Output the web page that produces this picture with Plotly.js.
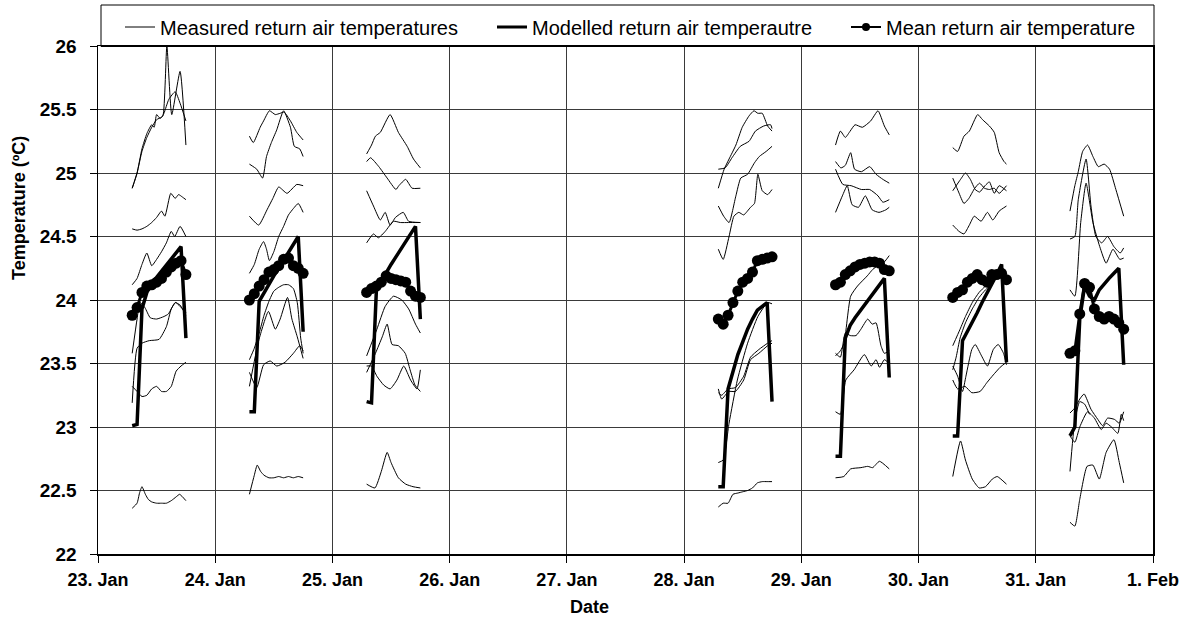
<!DOCTYPE html>
<html><head><meta charset="utf-8">
<script src="https://cdn.plot.ly/plotly-3.0.1.min.js"></script>
<style>html,body{margin:0;padding:0;background:#fff}#chart{width:1190px;height:624px}</style>
</head><body><div id="chart"></div>
<script>
// ---------- data ----------
const HOURS = [7,8,9,10,11,12,13,14,15,16,17,18];
const DAYS = [23,24,25,28,29,30,31];
const X_TICKS = ['2009-01-23','2009-01-24','2009-01-25','2009-01-26','2009-01-27','2009-01-28','2009-01-29','2009-01-30','2009-01-31','2009-02-01'];

// Modelled return air temperature (hourly, 07:00-18:00)
const mod23 = [23.01,23.02,23.93,24.06,24.13,24.18,24.23,24.28,24.33,24.38,24.42,23.70];
const mod24 = [23.12,23.12,23.99,24.06,24.12,24.19,24.25,24.31,24.37,24.44,24.50,23.75];
const mod25 = [23.20,23.19,24.08,24.15,24.21,24.28,24.34,24.40,24.46,24.52,24.58,23.85];
const mod28 = [22.53,22.53,23.30,23.44,23.57,23.67,23.77,23.85,23.92,23.95,23.98,23.20];
const mod29 = [22.77,22.77,23.70,23.80,23.86,23.91,23.96,24.01,24.06,24.11,24.17,23.39];
const mod30 = [22.93,22.93,23.68,23.75,23.83,23.90,23.98,24.05,24.13,24.20,24.28,23.51];
const mod31 = [22.93,23.00,23.85,24.11,24.03,24.00,24.08,24.13,24.17,24.21,24.25,23.49];

// Mean return air temperature (hourly)
const mean23 = [23.88,23.94,24.06,24.11,24.12,24.14,24.17,24.22,24.26,24.29,24.31,24.20];
const mean24 = [24.00,24.05,24.11,24.16,24.22,24.24,24.27,24.32,24.33,24.27,24.25,24.21];
const mean25 = [24.06,24.09,24.11,24.14,24.19,24.17,24.16,24.15,24.14,24.07,24.03,24.02];
const mean28 = [23.85,23.81,23.88,23.98,24.07,24.14,24.17,24.22,24.31,24.32,24.33,24.34];
const mean29 = [24.12,24.14,24.20,24.23,24.26,24.28,24.29,24.30,24.30,24.29,24.24,24.23];
const mean30 = [24.02,24.06,24.08,24.14,24.17,24.20,24.16,24.14,24.20,24.20,24.21,24.16];
const mean31 = [23.58,23.60,23.89,24.13,24.10,23.93,23.87,23.85,23.87,23.85,23.82,23.77];

// Measured return air temperatures: [hour, value]
const m23_1 = [[7,24.88],[8,25.0],[9,25.19],[10,25.31],[11,25.38],[11.5,25.36],[12,25.46],[12.7,25.43],[13.3,25.45],[14.1,26.0],[15.1,25.46],[16.8,25.8],[18,25.22]];
const m23_2 = [[7,24.88],[8,25.0],[9,25.17],[10,25.28],[11,25.36],[12,25.42],[13,25.44],[13.5,25.47],[14.5,25.58],[15.8,25.64],[16.8,25.55],[18,25.41]];
const m23_3 = [[7,24.56],[8,24.55],[9,24.56],[10,24.58],[11,24.61],[12,24.65],[13,24.70],[13.7,24.66],[14.9,24.84],[15.8,24.80],[16.5,24.83],[17.3,24.81],[18,24.79]];
const m23_4 = [[7,24.12],[8,24.17],[9,24.28],[10,24.37],[11,24.27],[12,24.32],[13,24.38],[14,24.45],[15,24.54],[15.7,24.5],[16.8,24.58],[18,24.5]];
const m23_5 = [[7,23.58],[8,23.85],[8.6,23.98],[9.6,23.94],[10.7,23.86],[12,23.85],[13.5,23.87],[14.4,23.89],[15.8,23.98],[16.8,23.96],[18,23.88]];
const m23_6 = [[7,23.19],[8,23.62],[9,23.66],[10.5,23.68],[12.5,23.69],[14,23.79],[15,23.93],[15.9,23.98],[16.8,23.95],[18,23.9]];
const m23_7 = [[7,23.32],[8,23.28],[9,23.24],[10,23.25],[11,23.30],[12,23.32],[13,23.28],[14,23.28],[15,23.32],[16,23.44],[17,23.48],[18,23.51]];
const m23_8 = [[7,22.36],[8,22.40],[8.5,22.48],[9,22.53],[9.7,22.47],[10.3,22.43],[11,22.41],[12,22.40],[13,22.40],[14,22.40],[15,22.42],[16,22.45],[16.7,22.47],[17.3,22.45],[18,22.42]];

const m24_1 = [[7,25.29],[7.8,25.24],[9.2,25.36],[9.9,25.41],[11.1,25.49],[12.3,25.46],[13.3,25.47],[14.1,25.48],[15.4,25.41],[16.7,25.32],[18,25.26]];
const m24_2 = [[7,25.07],[8.5,25.03],[9.7,24.96],[10.5,25.13],[11.5,25.24],[12.6,25.34],[14,25.49],[15.4,25.36],[16.2,25.21],[17.3,25.19],[18,25.13]];
const m24_3 = [[7,24.66],[8.9,24.59],[10.6,24.71],[11.8,24.80],[13,24.89],[14.7,24.84],[16.7,24.91],[18,24.90]];
const m24_4 = [[7,24.21],[8,24.28],[9,24.40],[9.9,24.46],[10.5,24.40],[11.1,24.31],[12,24.38],[13,24.50],[14,24.58],[15,24.67],[16,24.72],[17,24.76],[18,24.69]];
const m24_5 = [[7,23.53],[8,23.62],[9,23.74],[10,23.88],[11,23.99],[12,24.07],[13,24.10],[14,24.12],[15,24.12],[16,24.09],[16.8,23.98],[17.5,23.7],[18,23.58]];
const m24_6 = [[7,23.32],[8.9,23.68],[10.9,23.91],[12.3,23.77],[13.3,23.85],[14.8,24.02],[15.7,23.85],[16.8,23.71],[18,23.54]];
const m24_7 = [[7,23.43],[8.5,23.31],[9.9,23.49],[11.25,23.52],[12.6,23.48],[14.3,23.51],[16,23.58],[17.3,23.64],[18,23.6]];
const m24_8 = [[7,22.47],[8,22.62],[8.6,22.70],[9.3,22.65],[10,22.62],[11,22.60],[12,22.60],[13,22.61],[14,22.60],[15,22.61],[16,22.60],[17,22.61],[18,22.60]];

const m25_1 = [[7,25.15],[8,25.22],[8.8,25.29],[9.8,25.32],[11.8,25.46],[13.5,25.32],[15.3,25.21],[16.6,25.11],[18,25.04]];
const m25_2 = [[7,25.09],[7.8,25.12],[9.5,25.05],[11.2,24.96],[13.0,24.87],[13.6,24.90],[15.0,24.95],[16.3,24.88],[18,24.88]];
const m25_3 = [[7,24.86],[8.4,24.74],[9.8,24.63],[10.8,24.69],[11.8,24.59],[12.9,24.65],[14.5,24.69],[15.6,24.62],[18,24.61]];
const m25_4 = [[7,24.45],[8.4,24.52],[9.4,24.49],[10.8,24.54],[12.5,24.62],[13.9,24.61],[15.6,24.61],[18,24.61]];
const m25_5 = [[7,23.56],[9.1,23.77],[10.8,23.95],[12.5,24.03],[14.2,24.0],[15.6,23.93],[17,23.81],[18,23.74]];
const m25_6 = [[7,23.43],[8.8,23.58],[10.2,23.71],[11.2,23.81],[12.2,23.65],[13.5,23.64],[14.9,23.58],[15.9,23.45],[16.9,23.33],[18,23.28]];
const m25_7 = [[7,23.48],[8,23.48],[9.1,23.40],[10.5,23.33],[11.8,23.30],[13.2,23.37],[14.6,23.48],[16,23.37],[17.3,23.30],[18,23.45]];
const m25_8 = [[7,22.55],[8.7,22.52],[10,22.65],[11.2,22.80],[12,22.72],[13.5,22.60],[15,22.55],[16.5,22.53],[18,22.52]];

const m28_1 = [[7,24.88],[8.2,25.03],[9.2,25.11],[10.6,25.22],[11.9,25.36],[13.3,25.45],[14.3,25.49],[15.1,25.47],[16,25.47],[17.1,25.37],[18,25.33]];
const m28_2 = [[7,25.03],[8.4,25.04],[9.8,25.12],[11.5,25.21],[13.3,25.25],[14.6,25.33],[16.3,25.37],[17.7,25.38],[18,25.35]];
const m28_3 = [[7,24.74],[8.1,24.66],[9.2,24.61],[10.6,24.82],[11.6,24.96],[13,24.99],[14.4,25.08],[15.4,25.13],[16.8,25.17],[18,25.21]];
const m28_4 = [[7,24.40],[8,24.32],[9.2,24.50],[10.2,24.66],[11.2,24.69],[12.2,24.67],[13.6,24.73],[14.4,24.76],[15.1,24.99],[16,24.86],[17.1,24.83],[18,24.87]];
const m28_5 = [[7,23.30],[7.7,23.22],[9.1,23.28],[10.5,23.28],[12.2,23.37],[13.6,23.53],[15.3,23.58],[17.1,23.64],[18,23.66]];
const m28_6 = [[7,23.27],[7.7,23.25],[9,23.30],[10.5,23.31],[12.2,23.40],[13.6,23.55],[15.3,23.61],[17.1,23.66],[18,23.68]];
const m28_7 = [[7,22.72],[8,22.74],[9.2,23.03],[10.9,23.37],[13,23.66],[15.1,23.87],[17.1,23.98],[18,23.97]];
const m28_8 = [[7,22.37],[8,22.40],[9,22.40],[10,22.47],[11,22.48],[12,22.49],[13,22.50],[14,22.52],[15,22.56],[16,22.57],[17,22.57],[18,22.57]];

const m29_1 = [[7,25.22],[8,25.33],[9,25.28],[10,25.33],[11,25.38],[12.5,25.36],[14.2,25.41],[15.7,25.49],[17,25.37],[18,25.30]];
const m29_2 = [[7,25.09],[8.1,25.04],[9,25.06],[10.1,25.16],[10.9,25.03],[12.3,25.01],[14,25.05],[15.3,24.99],[16.7,24.95],[18,24.92]];
const m29_3 = [[7,25.03],[8.5,24.91],[10.2,24.90],[12.3,24.87],[14,24.87],[15.7,24.82],[16.7,24.77],[18,24.79]];
const m29_4 = [[7,24.69],[8.4,24.82],[9.4,24.90],[10.4,24.75],[11.7,24.73],[13.1,24.82],[14.5,24.71],[15.9,24.69],[17.3,24.71],[18,24.73]];
const m29_5 = [[7,23.56],[8,23.60],[8.75,23.66],[10.1,24.03],[11.5,24.11],[13.5,24.19],[14.6,24.24],[16,24.28],[17,24.30],[18,24.35]];
const m29_6 = [[7,23.58],[8,23.55],[9,23.74],[10,23.72],[11.2,23.72],[12.2,23.77],[13.6,23.85],[14.5,23.81],[15.3,23.82],[16.3,23.64],[17,23.58],[18,23.60]];
const m29_7 = [[7,23.12],[8,23.10],[9.1,23.37],[10.8,23.45],[12.9,23.57],[14.3,23.48],[15.3,23.53],[16,23.47],[17,23.53],[18,23.50]];
const m29_8 = [[7,22.60],[8.7,22.61],[10.1,22.67],[12.2,22.68],[13.6,22.69],[14.6,22.68],[16,22.73],[18,22.67]];

const m30_1 = [[7,25.20],[8,25.17],[9.3,25.29],[10.4,25.33],[12.1,25.46],[13.1,25.42],[14.5,25.37],[15.5,25.32],[16.5,25.16],[17.5,25.09],[18,25.07]];
const m30_2 = [[7,24.96],[8.2,24.85],[9.3,24.76],[10.3,24.80],[11.5,24.88],[12.5,24.92],[13.5,24.88],[14.5,24.87],[15.5,24.88],[16.5,24.84],[18,24.90]];
const m30_3 = [[7,24.86],[8.6,24.95],[9.6,25.0],[10.6,24.95],[11.6,24.87],[12.5,24.85],[13.6,24.90],[14.5,24.93],[15.5,24.84],[16.5,24.90],[18,24.86]];
const m30_4 = [[7,24.59],[8.3,24.54],[9.3,24.52],[10.4,24.59],[11.4,24.66],[12.8,24.62],[14.1,24.69],[15.2,24.63],[16.5,24.70],[18,24.74]];
const m30_5 = [[7,23.64],[8.5,23.77],[9.6,23.87],[11,23.98],[12.4,24.06],[13.7,24.11],[14.8,24.15],[16,24.20],[17,24.25]];
const m30_6 = [[7,23.45],[7.7,23.55],[8.5,23.70],[9.6,23.82],[11,23.93],[12.4,24.02],[13.7,24.08],[14.8,24.12],[16,24.18],[17,24.24]];
const m30_7 = [[7,23.48],[8,23.40],[9,23.28],[9.7,23.40],[10.9,23.61],[11.6,23.65],[12.9,23.56],[14.1,23.48],[15.3,23.61],[16.3,23.65],[17.4,23.58],[18,23.49]];
const m30_8 = [[7,23.37],[8,23.30],[9.5,23.32],[10.9,23.27],[12.6,23.28],[14,23.35],[15.3,23.41],[16.7,23.47],[18,23.51]];
const m30_9 = [[7,22.61],[8.6,22.89],[9.6,22.74],[11,22.59],[12.4,22.52],[13.7,22.53],[15.1,22.59],[16.1,22.61],[18,22.55]];

const m31_1 = [[7,24.70],[8,24.90],[8.7,25.01],[9.6,25.17],[10.6,25.22],[11.7,25.13],[12.8,25.05],[14,25.07],[15.1,25.03],[16.4,24.87],[18,24.66]];
const m31_2 = [[7,24.48],[8,24.50],[8.7,24.79],[10.3,25.11],[11.3,24.74],[12.3,24.50],[13.5,24.45],[14.7,24.50],[16,24.42],[17.3,24.37],[18,24.41]];
const m31_3 = [[7,24.08],[8,24.03],[9.2,24.61],[10.3,24.92],[11.7,24.61],[13.1,24.42],[14.4,24.29],[15.8,24.40],[17.2,24.32],[18,24.33]];
const m31_4 = [[7,23.11],[8,23.15],[9,23.22],[9.9,23.26],[11.3,23.14],[12.7,23.06],[13.7,23.01],[14.7,23.07],[16.1,23.06],[17.1,23.03],[18,23.12]];
const m31_5 = [[7,22.93],[8,22.88],[9,23.0],[10.6,23.12],[12,23.07],[13.4,22.98],[14.4,23.03],[15.5,23.0],[16.8,22.95],[17.5,23.1],[18,23.05]];
const m31_6 = [[7,22.65],[8,23.05],[9,23.20],[10,23.18],[11,23.10]];
const m31_7 = [[7,22.25],[8,22.22],[9,22.43],[10.5,22.69],[11.7,22.70],[13,22.59],[14.4,22.80],[16,22.90],[17.1,22.72],[18,22.56]];

const MEASURED = {
  23:[m23_1,m23_2,m23_3,m23_4,m23_5,m23_6,m23_7,m23_8],
  24:[m24_1,m24_2,m24_3,m24_4,m24_5,m24_6,m24_7,m24_8],
  25:[m25_1,m25_2,m25_3,m25_4,m25_5,m25_6,m25_7,m25_8],
  28:[m28_1,m28_2,m28_3,m28_4,m28_5,m28_6,m28_7,m28_8],
  29:[m29_1,m29_2,m29_3,m29_4,m29_5,m29_6,m29_7,m29_8],
  30:[m30_1,m30_2,m30_3,m30_4,m30_5,m30_6,m30_7,m30_8,m30_9],
  31:[m31_1,m31_2,m31_3,m31_4,m31_5,m31_6,m31_7]
};
const MODELLED = {23:mod23,24:mod24,25:mod25,28:mod28,29:mod29,30:mod30,31:mod31};
const MEAN = {23:mean23,24:mean24,25:mean25,28:mean28,29:mean29,30:mean30,31:mean31};

const LEGEND_NAMES = ['Measured return air temperatures','Modelled return air temperautre','Mean return air temperature'];
const X_TITLE = 'Date';
const Y_TITLE = 'Temperature (ºC)';

// ---------- helpers ----------
function stamp(day, h){
  const hh = Math.floor(h), mm = Math.round((h-hh)*60);
  return '2009-01-' + String(day).padStart(2,'0') + ' ' + String(hh).padStart(2,'0') + ':' + String(mm).padStart(2,'0');
}

const FONT = 'Liberation Sans, Arial, Helvetica, sans-serif';
const traces = [];

DAYS.forEach(d => {
  MEASURED[d].forEach(s => {
    traces.push({type:'scatter', mode:'lines', x:s.map(p=>stamp(d,p[0])), y:s.map(p=>p[1]),
      line:{color:'#000', width:1, shape:'spline', smoothing:0.5}, showlegend:false, hoverinfo:'skip'});
  });
});
DAYS.forEach(d => {
  traces.push({type:'scatter', mode:'lines', x:HOURS.map(h=>stamp(d,h)), y:MODELLED[d],
    line:{color:'#000', width:3.5}, showlegend:false, hoverinfo:'skip'});
});
DAYS.forEach(d => {
  traces.push({type:'scatter', mode:'lines+markers', x:HOURS.map(h=>stamp(d,h)), y:MEAN[d],
    line:{color:'#000', width:3}, marker:{color:'#000', size:11}, showlegend:false, hoverinfo:'skip'});
});
// legend entries (placed outside the visible range)
traces.push({type:'scatter', mode:'lines', x:['2009-01-20'], y:[0], name:LEGEND_NAMES[0], legend:'legend',
  line:{color:'#000', width:1}});
traces.push({type:'scatter', mode:'lines', x:['2009-01-20'], y:[0], name:LEGEND_NAMES[1], legend:'legend2',
  line:{color:'#000', width:3}});
traces.push({type:'scatter', mode:'lines+markers', x:['2009-01-20'], y:[0], name:LEGEND_NAMES[2], legend:'legend3',
  line:{color:'#000', width:2}, marker:{color:'#000', size:8}});

const W = 1190, H = 624, L = 98, R = 37, T = 46, B = 70;
const pw = W-L-R, ph = H-T-B;
const px2x = p => (p-L)/pw;
const py2y = p => (H-B-p)/ph;
const legFont = {family:FONT, size:20, color:'#000'};
function leg(xpx){ return {x:px2x(xpx), xanchor:'left', y:py2y(27), yanchor:'middle', bgcolor:'rgba(0,0,0,0)', borderwidth:0, font:legFont, itemsizing:'trace'}; }
const titleFont = {family:FONT, size:18, weight:'bold', color:'#000'};

const layout = {
  width:W, height:H,
  margin:{l:L, r:R, t:T, b:B, autoexpand:false},
  paper_bgcolor:'#fff', plot_bgcolor:'#fff',
  font:{family:FONT, color:'#000'},
  xaxis:{type:'date', range:['2009-01-23','2009-02-01'], tickvals:X_TICKS, tickformat:'%-d. %b',
    ticks:'outside', ticklen:7, tickcolor:'#000', tickwidth:1, ticklabelstandoff:2,
    showgrid:true, gridcolor:'#3a3a3a', gridwidth:1,
    showline:true, linecolor:'#000', linewidth:1.5, mirror:true, zeroline:false,
    tickfont:{family:FONT, size:18, weight:'bold', color:'#000'}},
  yaxis:{range:[22,26], dtick:0.5, tick0:22,
    ticks:'outside', ticklen:7, tickcolor:'#000', tickwidth:1, ticklabelstandoff:9,
    showgrid:true, gridcolor:'#3a3a3a', gridwidth:1,
    showline:true, linecolor:'#000', linewidth:1.5, mirror:true, zeroline:false,
    tickfont:{family:FONT, size:19, weight:'bold', color:'#000'}},
  showlegend:true,
  legend:leg(120), legend2:leg(492), legend3:leg(846),
  annotations:[
    {text:X_TITLE, xref:'paper', yref:'paper', x:px2x(589), y:py2y(607), xanchor:'center', yanchor:'middle', showarrow:false, font:titleFont},
    {text:Y_TITLE, xref:'paper', yref:'paper', x:px2x(19), y:py2y(208), xanchor:'center', yanchor:'middle', textangle:-90, showarrow:false, font:titleFont}
  ],
  shapes:[{type:'rect', xref:'paper', yref:'paper', x0:px2x(101), x1:px2x(1154), y0:py2y(46.5), y1:py2y(5),
    line:{color:'#000', width:1}, fillcolor:'rgba(0,0,0,0)', layer:'above'}]
};

Plotly.newPlot('chart', traces, layout, {displayModeBar:false, staticPlot:true});
</script>
</body></html>
